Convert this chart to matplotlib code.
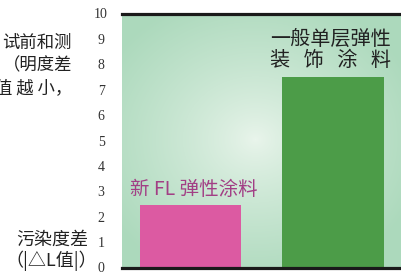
import matplotlib
matplotlib.use("Agg")
import matplotlib.pyplot as plt
import numpy as np

CJK = ["Noto Sans CJK SC", "DejaVu Sans"]

categories = ["新 FL 弹性涂料", "一般单层弹性\n装   饰   涂   料"]
values = [2.45, 7.5]
bar_colors = ["#DC5AA2", "#4C9C48"]
label_colors = ["#A23F85", "#222222"]
yticks = list(range(0, 11))

W, H = 402, 274
fig = plt.figure(figsize=(W / 100, H / 100), dpi=100)
fig.patch.set_facecolor("white")

ax_l, ax_b = 122 / W, (H - 267.5) / H
ax = fig.add_axes([ax_l, ax_b, 1.0 - ax_l, 254 / H])
ax.set_xlim(-0.48, 1.48)
ax.set_ylim(0, 10)

# radial light gradient behind the bars
nx, ny = 280, 254
xx, yy = np.meshgrid(np.arange(nx), np.arange(ny))
cx, cy = 133, 127
r = np.sqrt(((xx - cx) / 1.15) ** 2 + (yy - cy) ** 2)
t = np.clip(r / 150, 0, 1) ** 0.8
c0 = np.array([0xEA, 0xF5, 0xEC]) / 255
c1 = np.array([0xAC, 0xD9, 0xBC]) / 255
img = c0 + (c1 - c0) * t[..., None]
ax.imshow(img, extent=[0, 1, 0, 1], transform=ax.transAxes, aspect="auto",
          zorder=0, origin="lower")

x = np.arange(len(values))
ax.bar(x, values, width=0.713, color=bar_colors, zorder=2)

ax.text(x[0] + 0.025, values[0] + 0.64, categories[0], ha="center", va="center",
        fontsize=14, color=label_colors[0], family=CJK, zorder=3)
ax.text(x[1] + 0.405, values[1] + 1.07, categories[1], ha="right", va="center",
        fontsize=14.5, color=label_colors[1], family=CJK, linespacing=1.05,
        zorder=3)

for s in ["left", "right"]:
    ax.spines[s].set_visible(False)
for s in ["top", "bottom"]:
    ax.spines[s].set_linewidth(2.3)
    ax.spines[s].set_color("#1a1a1a")
    ax.spines[s].set_zorder(4)

ax.set_xticks([])
ax.set_yticks(yticks)
ax.tick_params(axis="y", length=0, pad=15)
for lab in ax.get_yticklabels():
    lab.set_horizontalalignment("center")
    lab.set_family("Liberation Serif")
    lab.set_fontsize(10)
    lab.set_color("#333333")

# left-side axis caption (partly cut off in the source)
for txt, px, py, fs in [("试前和测", 72, 43, 12.5),
                        ("（明度差", 72, 65, 12.5),
                        ("值 越 小，", 72, 88, 12.5),
                        ("污染度差", 88, 240, 13),
                        ("（|△L值|）", 97, 261, 13)]:
    fig.text(px / W, 1 - py / H, txt, ha="right", va="center", fontsize=fs,
             color="#222222", family=CJK)

fig.savefig("out.png", dpi=100)
